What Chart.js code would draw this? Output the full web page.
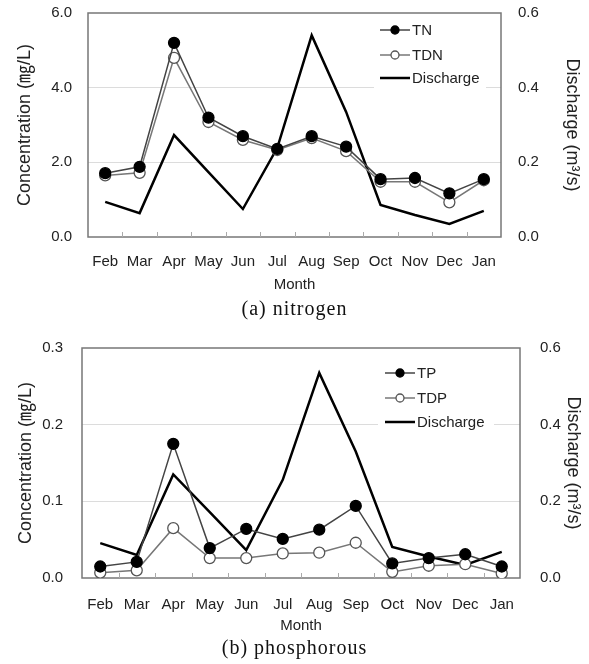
<!DOCTYPE html>
<html lang="en">
<head>
<meta charset="UTF-8">
<title>Monthly nitrogen and phosphorous</title>
<script src="https://cdn.jsdelivr.net/npm/chart.js@4.4.4/dist/chart.umd.min.js"></script>
<style>
  html, body { margin: 0; padding: 0; background: #fff; }
  .page { position: relative; width: 589px; height: 664px; overflow: hidden; }
  .panel { position: absolute; left: 0; width: 589px; }
  .caption { position: absolute; left: 0; width: 589px; text-align: center; font: 20px "Liberation Serif", "DejaVu Serif", serif; letter-spacing: 1px; color: #111; line-height: 23px; }
</style>
</head>
<body>
<div class="page">
  <div class="panel" style="top:0;height:300px"><canvas id="nitrogenChart"></canvas></div>
  <div class="caption" style="top:297px">(a) nitrogen</div>
  <div class="panel" style="top:330px;height:305px"><canvas id="phosphorusChart"></canvas></div>
  <div class="caption" style="top:636px">(b) phosphorous</div>
</div>
<script>
const MONTHS = ['Feb', 'Mar', 'Apr', 'May', 'Jun', 'Jul', 'Aug', 'Sep', 'Oct', 'Nov', 'Dec', 'Jan'];

// (a) nitrogen, mg/L
const TN = [1.71, 1.88, 5.2, 3.2, 2.7, 2.36, 2.7, 2.42, 1.55, 1.58, 1.17, 1.55];
const TDN = [1.65, 1.72, 4.8, 3.08, 2.6, 2.33, 2.65, 2.3, 1.48, 1.48, 0.93, 1.52];
const DISCHARGE_N = [0.094, 0.064, 0.273, 0.174, 0.075, 0.239, 0.54, 0.335, 0.086, 0.059, 0.035, 0.07];

// (b) phosphorous, mg/L
const TP = [0.015, 0.021, 0.175, 0.039, 0.064, 0.051, 0.063, 0.094, 0.019, 0.026, 0.031, 0.015];
const TDP = [0.007, 0.010, 0.065, 0.026, 0.026, 0.032, 0.033, 0.046, 0.008, 0.016, 0.018, 0.006];
const DISCHARGE_P = [0.091, 0.06, 0.27, 0.172, 0.073, 0.256, 0.535, 0.33, 0.081, 0.056, 0.034, 0.068];

const N_TICKS = [0, 2, 4, 6];
const P_TICKS = [0, 0.1, 0.2, 0.3];
const Q_TICKS = [0, 0.2, 0.4, 0.6];

const SANS = '"Liberation Sans", Arial, "Noto Sans CJK KR", sans-serif';
const TEXT = '#222';

// box round the plot plus the short inward ticks between months
const framePlugin = {
    id: 'frame',
    beforeDatasetsDraw(chart) {
        const { ctx, chartArea: a } = chart;
        const x = chart.scales.x;
        ctx.save();
        ctx.strokeStyle = '#777';
        ctx.lineWidth = 1.5;
        ctx.strokeRect(a.left, a.top, a.right - a.left, a.bottom - a.top);
        ctx.lineWidth = 1;
        ctx.strokeStyle = '#aaa';
        for (let i = 1; i < MONTHS.length; i++) {
            const px = Math.round((x.getPixelForTick(i - 1) + x.getPixelForTick(i)) / 2) + 0.5;
            ctx.beginPath();
            ctx.moveTo(px, a.bottom);
            ctx.lineTo(px, a.bottom - 5);
            ctx.stroke();
        }
        ctx.restore();
    },
};

// legend drawn inside the plot: short line with its marker, then the label
const insideLegend = {
    id: 'insideLegend',
    afterDatasetsDraw(chart, args, opts) {
        const { ctx } = chart;
        ctx.save();
        ctx.fillStyle = '#fff';
        ctx.fillRect(opts.box[0], opts.box[1], opts.box[2], opts.box[3]);
        chart.data.datasets.forEach((ds, i) => {
            const y = opts.rows[i];
            ctx.strokeStyle = ds.borderColor;
            ctx.lineWidth = ds.borderWidth;
            ctx.beginPath();
            ctx.moveTo(opts.x0, y);
            ctx.lineTo(opts.x1, y);
            ctx.stroke();
            if (ds.pointRadius > 0) {
                ctx.beginPath();
                ctx.arc((opts.x0 + opts.x1) / 2, y, ds.pointRadius - 1.5, 0, Math.PI * 2);
                ctx.fillStyle = ds.pointBackgroundColor;
                ctx.fill();
                ctx.lineWidth = ds.pointBorderWidth;
                ctx.strokeStyle = ds.pointBorderColor;
                ctx.stroke();
            }
            ctx.fillStyle = TEXT;
            ctx.font = '15px ' + SANS;
            ctx.textBaseline = 'middle';
            ctx.fillText(ds.label, opts.textX, y + 1);
        });
        ctx.restore();
    },
};

function concentrationSet(label, data, filled) {
    return {
        label,
        data,
        yAxisID: 'y',
        borderColor: filled ? '#444' : '#777',
        borderWidth: 1.5,
        pointRadius: 5.5,
        pointHoverRadius: 5.5,
        pointBackgroundColor: filled ? '#000' : '#fff',
        pointBorderColor: filled ? '#000' : '#555',
        pointBorderWidth: 1.3,
        order: filled ? 0 : 1,
    };
}

function dischargeSet(data) {
    return {
        label: 'Discharge',
        data,
        yAxisID: 'y1',
        borderColor: '#000',
        borderWidth: 2.5,
        pointRadius: 0,
        order: 2,
    };
}

// fixed width, and drop the tick-padding Chart.js would add above the plot
function fixWidth(width) {
    return (s) => {
        s.width = width;
        s.paddingTop = 0;
        s.paddingBottom = 0;
    };
}

function buildChart(canvasId, d) {
    return new Chart(document.getElementById(canvasId), {
        type: 'line',
        data: {
            labels: MONTHS,
            datasets: [
                concentrationSet(d.names[0], d.total, true),
                concentrationSet(d.names[1], d.dissolved, false),
                dischargeSet(d.discharge),
            ],
        },
        options: {
            responsive: true,
            maintainAspectRatio: false,
            animation: false,
            layout: { padding: { top: d.padTop, left: 0, right: 0, bottom: 0 } },
            plugins: {
                legend: { display: false },
                tooltip: { enabled: false },
                insideLegend: d.legend,
            },
            scales: {
                x: {
                    offset: true,
                    grid: { display: false },
                    border: { display: false },
                    ticks: { color: TEXT, font: { family: SANS, size: 15 }, padding: d.xPad, maxRotation: 0 },
                    title: { display: true, text: 'Month', color: TEXT, font: { family: SANS, size: 15 }, padding: { top: 0, bottom: d.monthPad } },
                    afterFit: (s) => { s.height = d.xHeight; },
                },
                y: {
                    position: 'left',
                    min: 0,
                    max: d.concTicks[d.concTicks.length - 1],
                    afterBuildTicks: (s) => { s.ticks = d.concTicks.map((v) => ({ value: v })); },
                    grid: {
                        drawTicks: false,
                        color: (c) => (c.index === 0 || c.index === d.concTicks.length - 1 ? 'rgba(0,0,0,0)' : '#dcdcdc'),
                    },
                    border: { display: false },
                    ticks: { color: TEXT, font: { family: SANS, size: 15 }, padding: d.leftPad, callback: (v) => v.toFixed(1) },
                    title: { display: true, text: 'Concentration (㎎/L)', color: TEXT, font: { family: SANS, size: 18 }, padding: { top: d.leftTitlePad, bottom: 0 } },
                    afterFit: fixWidth(d.leftWidth),
                },
                y1: {
                    position: 'right',
                    min: 0,
                    max: 0.6,
                    afterBuildTicks: (s) => { s.ticks = Q_TICKS.map((v) => ({ value: v })); },
                    grid: { display: false },
                    border: { display: false },
                    ticks: { color: TEXT, font: { family: SANS, size: 15 }, padding: d.rightPad, callback: (v) => v.toFixed(1) },
                    title: { display: true, text: 'Discharge (m³/s)', color: TEXT, font: { family: SANS, size: 18 }, padding: { top: d.rightTitlePad, bottom: 0 } },
                    afterFit: fixWidth(d.rightWidth),
                },
            },
        },
        plugins: [framePlugin, insideLegend],
    });
}

buildChart('nitrogenChart', {
    names: ['TN', 'TDN'],
    total: TN,
    dissolved: TDN,
    discharge: DISCHARGE_N,
    concTicks: N_TICKS,
    padTop: 13,
    xHeight: 63,
    xPad: 8,
    monthPad: 6,
    leftWidth: 88,
    rightWidth: 88,
    leftPad: 16,
    rightPad: 9,
    leftTitlePad: 14,
    rightTitlePad: 6,
    legend: { box: [374, 18, 112, 72], x0: 380, x1: 410, textX: 412, rows: [30, 55, 78] },
});

buildChart('phosphorusChart', {
    names: ['TP', 'TDP'],
    total: TP,
    dissolved: TDP,
    discharge: DISCHARGE_P,
    concTicks: P_TICKS,
    padTop: 18,
    xHeight: 57,
    xPad: 10,
    monthPad: 0,
    leftWidth: 82,
    rightWidth: 69,
    leftPad: 19,
    rightPad: 12,
    leftTitlePad: 15,
    rightTitlePad: 5,
    legend: { box: [378, 31, 116, 66], x0: 385, x1: 415, textX: 417, rows: [43, 68, 92] },
});
</script>
</body>
</html>
